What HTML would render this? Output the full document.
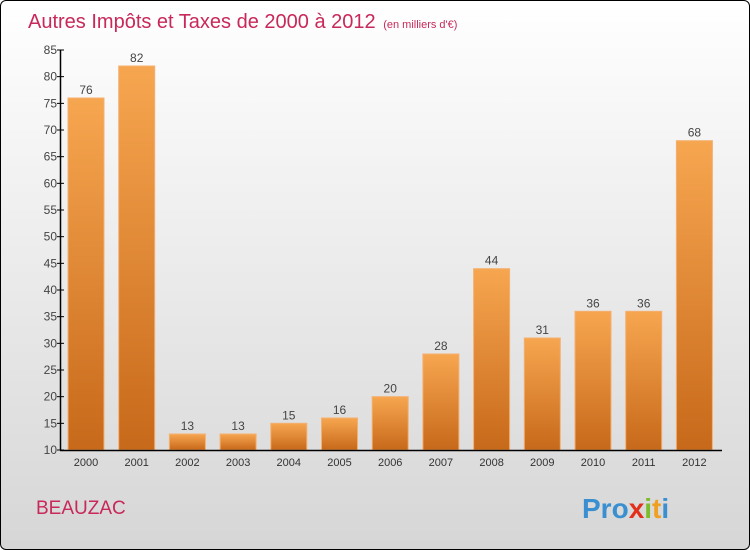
<!DOCTYPE html>
<html><head><meta charset="utf-8"><style>
html,body{margin:0;padding:0;width:750px;height:550px;overflow:hidden;font-family:"Liberation Sans",sans-serif}
#wrap{position:absolute;left:0;top:0;width:748px;height:548px;border:1px solid #000;border-radius:6px;background:linear-gradient(#ffffff,#d6d6d6);overflow:hidden}
</style></head><body>
<div id="wrap">
<svg id="chart" width="750" height="550" style="position:absolute;left:-1px;top:-1px">
<defs>
<linearGradient id="bg" x1="0" y1="0" x2="0" y2="1"><stop offset="0" stop-color="#f7a650"/><stop offset="1" stop-color="#c7691a"/></linearGradient>
</defs>
<text x="28" y="28" font-size="20" fill="#c8285a">Autres Impôts et Taxes de 2000 à 2012 <tspan font-size="11" dx="2">(en milliers d'€)</tspan></text>
<g id="grid"></g>
<text x="36" y="514" font-size="19" fill="#c8285a">BEAUZAC</text>
<text x="582" y="518" font-size="28" font-weight="bold" fill="#3a8fd0">Pro<tspan fill="#e2301a">x</tspan><tspan fill="#7cbd2a">i</tspan><tspan fill="#f0a020">t</tspan><tspan fill="#3a8fd0">i</tspan></text>
</svg>
</div>
<script>
const years=["2000","2001","2002","2003","2004","2005","2006","2007","2008","2009","2010","2011","2012"];
const values=[76,82,13,13,15,16,20,28,44,31,36,36,68];
const ticks=[10,15,20,25,30,35,40,45,50,55,60,65,70,75,80,85];
const NS="http://www.w3.org/2000/svg";
const g=document.getElementById('grid');
const y=v=>450-(v-10)*400/75;
const x=i=>86+i*50.7;
function el(t,a){const e=document.createElementNS(NS,t);for(const k in a)e.setAttribute(k,a[k]);g.appendChild(e);return e;}
years.forEach((yr,i)=>{
 const r=el('rect',{x:x(i)-18,y:y(values[i]),width:36,height:450-y(values[i]),fill:'url(#bg)',stroke:'#f4b070','stroke-width':1});
 
 
 const t=el('text',{x:x(i),y:y(values[i])-4,'font-size':12,fill:'#444','text-anchor':'middle'});t.textContent=values[i];
 
 
 const xl=el('text',{x:x(i),y:466,'font-size':11,fill:'#333','text-anchor':'middle'});xl.textContent=yr;
 
 
});
ticks.forEach(v=>{
 el('line',{x1:57,x2:64,y1:y(v),y2:y(v),stroke:'#000'});
 const t=el('text',{x:57,y:y(v)+4,'font-size':12,fill:'#444','text-anchor':'end'});t.textContent=v;
 
 
});
const ya=el('line',{x1:60.5,x2:60.5,y1:50,y2:450,stroke:'#000','stroke-width':1.5});


const xa=el('line',{x1:60,x2:722,y1:450.5,y2:450.5,stroke:'#000','stroke-width':1.5});


</script>
</body></html>
